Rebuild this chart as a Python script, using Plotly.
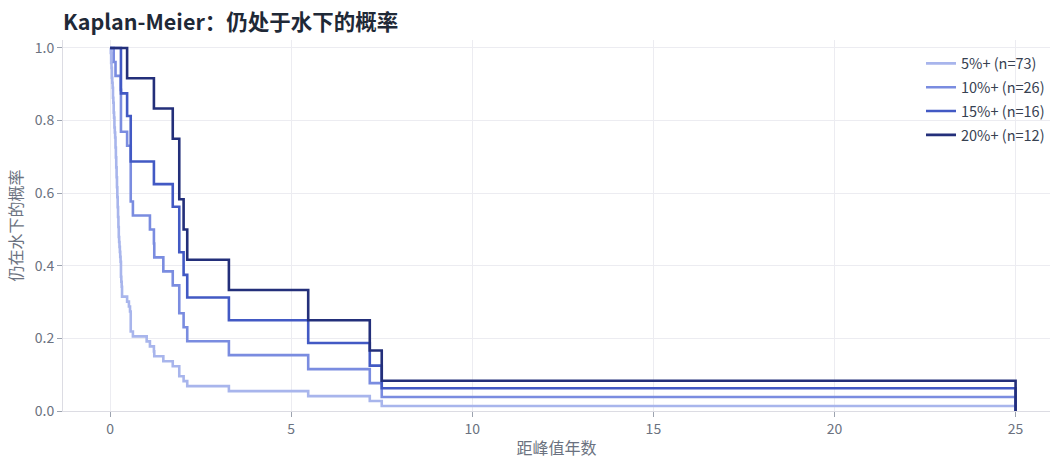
import plotly.graph_objects as go

# Years from peak until recovery, for drawdowns of at least each depth.
# Deeper groups are subsets of the shallower ones.
dur_20 = [0.47, 1.21, 1.73, 1.91, 1.91, 2.03, 2.13, 3.28, 5.47, 7.17, 7.50, 25.0]
dur_15 = dur_20 + [0.30, 0.30, 0.57, 0.57]
dur_10 = dur_15 + [0.10, 0.15, 0.29, 0.30, 0.57, 0.57, 0.63, 1.10, 1.22, 1.47]
dur_5 = dur_10 + [
    0.02, 0.03, 0.03, 0.04, 0.05, 0.05, 0.06, 0.07, 0.08, 0.08,
    0.09, 0.10, 0.11, 0.12, 0.12, 0.13, 0.14, 0.15, 0.16, 0.16,
    0.17, 0.17, 0.18, 0.18, 0.19, 0.19, 0.20, 0.20, 0.21, 0.21,
    0.22, 0.22, 0.23, 0.23, 0.24, 0.24, 0.25,
    0.26, 0.27, 0.28, 0.31, 0.32, 0.33, 0.33,
    0.52, 0.55, 1.01,
]

groups = ["5%+", "10%+", "15%+", "20%+"]
durations = [dur_5, dur_10, dur_15, dur_20]
colors = ["#a8b5ec", "#7a8ce0", "#4259c4", "#232f7a"]

FONT = "Noto Sans CJK SC, Source Sans Pro, sans-serif"
GRAY = "#6b7280"


def kaplan_meier(times):
    """Step points of the Kaplan-Meier survival curve (no censoring)."""
    xs, ys = [0.0], [1.0]
    at_risk = len(times)
    surv = 1.0
    for t in sorted(set(times)):
        d = times.count(t)
        surv *= 1 - d / at_risk
        at_risk -= d
        xs.append(t)
        ys.append(surv)
    return xs, ys


fig = go.Figure()
for name, dur, col in zip(groups, durations, colors):
    xs, ys = kaplan_meier(dur)
    fig.add_trace(go.Scatter(
        x=xs, y=ys, mode="lines",
        line=dict(shape="hv", color=col, width=2.6),
        name=f"{name} (n={len(dur)})",
        legendgroup=name,
    ))

fig.update_layout(
    width=1050, height=459,
    margin=dict(l=63, r=0, t=40, b=48),
    paper_bgcolor="white", plot_bgcolor="white",
    font=dict(family=FONT, color=GRAY, size=14),
    title=dict(
        text="<b>Kaplan-Meier：仍处于水下的概率</b>",
        x=0, xref="paper", xanchor="left",
        y=0.951, yref="container", yanchor="middle",
        font=dict(family=FONT, size=21.5, color="#1f2937"),
    ),
    legend=dict(
        x=1, xanchor="right", y=0.98, yanchor="top",
        bgcolor="rgba(255,255,255,0)",
        font=dict(size=14.5, color="#374151"),
        tracegroupgap=2,
    ),
    showlegend=True,
)

fig.update_xaxes(
    title=dict(text="距峰值年数", font=dict(size=16, color=GRAY), standoff=14),
    automargin=False,
    range=[-1.3, 25.95],
    tickvals=[0, 5, 10, 15, 20, 25],
    showgrid=True, gridcolor="#ececf1", gridwidth=1,
    zeroline=False,
    showline=True, linecolor="#dcdce3", linewidth=1,
    ticks="outside", ticklen=5, tickcolor="#9ca3af",
    tickfont=dict(size=14, color=GRAY),
)
fig.update_yaxes(
    title=dict(text="仍在水下的概率", font=dict(size=16, color=GRAY), standoff=8),
    range=[0, 1.022],
    tickvals=[0, 0.2, 0.4, 0.6, 0.8, 1.0],
    tickformat=".1f",
    showgrid=True, gridcolor="#ececf1", gridwidth=1,
    zeroline=False,
    showline=True, linecolor="#dcdce3", linewidth=1,
    ticks="outside", ticklen=5, tickcolor="#9ca3af",
    tickfont=dict(size=14, color=GRAY),
)

fig.write_html("out.html")
